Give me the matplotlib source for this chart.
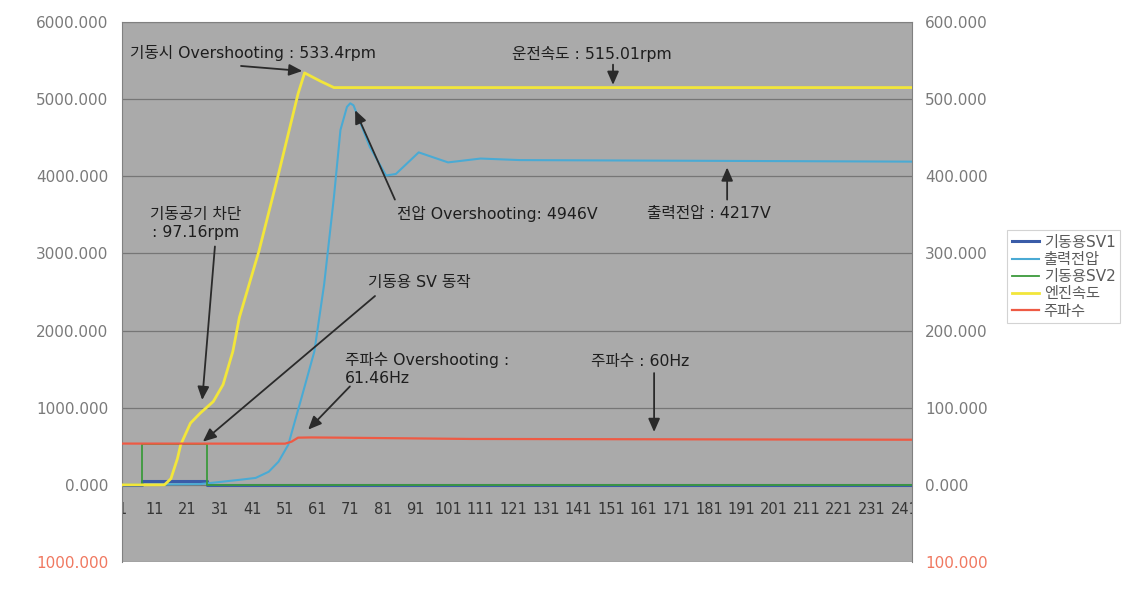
import matplotlib
matplotlib.use("Agg")
import matplotlib.pyplot as plt
from matplotlib.ticker import FixedLocator, FuncFormatter

# Latin glyphs from DejaVu (wider, like the original), Hangul falls back to Noto CJK
plt.rcParams['font.family'] = ['DejaVu Sans', 'Noto Sans CJK KR']
plt.rcParams['axes.unicode_minus'] = False

# ---- data ----
# 엔진속도 (rpm, right axis)
speed_x = [1, 14, 16, 18, 19, 22, 25, 29, 32, 35, 37, 43, 49, 55, 57, 62, 66, 243]
speed_rpm = [0, 0, 8, 34, 52, 80, 93, 108, 130, 173, 217, 303, 403, 507, 534, 523, 515, 515]

# 출력전압 (V, left axis)
volt_x = [1, 25, 37, 42, 46, 49, 52, 56, 60, 63, 66, 68, 70, 71, 72, 77, 82, 85, 92, 101, 111, 123, 243]
volt_v = [0, 10, 65, 90, 170, 300, 520, 1120, 1730, 2600, 3730, 4600, 4900, 4946, 4920, 4380, 4010, 4030,
          4310, 4180, 4230, 4210, 4190]

# 주파수 (Hz, right axis)
freq_x = [1, 51, 53, 55, 59, 67, 108, 243]
freq_hz = [53.5, 53.4, 56, 61.2, 61.46, 61.2, 59.5, 58.5]

# 기동용SV1 / 기동용SV2 (left axis)
sv1_x = [1, 7, 7, 27, 27, 243]
sv1_v = [0, 0, 45, 45, 0, 0]
sv2_x = [1, 7, 7, 27, 27, 243]
sv2_v = [0, 0, 530, 530, 0, 0]

x_ticks = list(range(1, 242, 10))
left_ticks = [-1000, 0, 1000, 2000, 3000, 4000, 5000, 6000]
right_ticks = [-100, 0, 100, 200, 300, 400, 500, 600]

# annotations: text, text pos, arrow tail, arrow tip, alignment  (right-axis units)
notes = [
    ("기동시 Overshooting : 533.4rpm", (3.5, 560), (37.5, 543), (56.3, 536.5), 'left'),
    ("운전속도 : 515.01rpm", (120.6, 559), (151.6, 544.7), (151.6, 518.5), 'left'),
    ("전압 Overshooting: 4946V", (85.4, 351.6), (84.7, 369.8), (72.5, 485.7), 'left'),
    ("출력전압 : 4217V", (162, 351.6), (186.6, 369.8), (186.6, 411.5), 'left'),
    ("기동공기 차단\n: 97.16rpm", (23.7, 338.5), (29.5, 309), (25.6, 110), 'center'),
    ("기동용 SV 동작", (76.5, 262.1), (78.6, 244.8), (25.8, 56.0), 'left'),
    ("주파수 Overshooting :\n61.46Hz", (69.4, 149.7), (70.9, 127.6), (58.1, 71.6), 'left'),
    ("주파수 : 60Hz", (144.9, 160.2), (164.2, 144.9), (164.2, 68.5), 'left'),
]

fig = plt.figure(figsize=(11.43, 6.08), dpi=100)
ax = fig.add_axes([122 / 1143, 46 / 608, 790 / 1143, 540 / 608])
ax.set_facecolor('#aaaaaa')

# primary axis series
ax.plot(sv1_x, sv1_v, color='#3a5ca8', lw=2.2, label='기동용SV1')
ax.plot(volt_x, volt_v, color='#4aaad4', lw=1.5, label='출력전압')
ax.plot(sv2_x, sv2_v, color='#3c9a3c', lw=1.3, label='기동용SV2')

ax.set_xlim(1, 243.3)
ax.set_ylim(-1000, 6000)
ax.yaxis.set_major_locator(FixedLocator(left_ticks))
ax.yaxis.set_major_formatter(FuncFormatter(lambda v, p: "%.3f" % abs(v)))
ax.grid(axis='y', color='#767676', lw=0.9)
ax.set_axisbelow(True)

ax.xaxis.set_major_locator(FixedLocator(x_ticks))
ax.spines['bottom'].set_position(('data', 0))
ax.spines['bottom'].set_visible(False)
ax.tick_params(axis='x', length=0, pad=12, labelsize=10.5, labelcolor='#353535')
for lbl in ax.get_xticklabels():
    lbl.set_clip_on(True)
    lbl.set_clip_box(ax.bbox)

ax.tick_params(axis='y', length=0, pad=10, labelsize=11, labelcolor='#7a7a7a')
ax.get_yticklabels()[0].set_color('#f07860')

for s in ['top', 'left', 'right']:
    ax.spines[s].set_color('#808080')

# secondary axis series
ax2 = ax.twinx()
ax2.plot(speed_x, speed_rpm, color='#f2e63a', lw=2.0, label='엔진속도')
ax2.plot(freq_x, freq_hz, color='#ee5a44', lw=1.6, label='주파수')
ax2.set_ylim(-100, 600)
ax2.yaxis.set_major_locator(FixedLocator(right_ticks))
ax2.yaxis.set_major_formatter(FuncFormatter(lambda v, p: "%.3f" % abs(v)))
ax2.tick_params(axis='y', length=0, pad=9.4, labelsize=11, labelcolor='#7a7a7a')
ax2.get_yticklabels()[0].set_color('#f07860')
for s in ['top', 'left', 'right', 'bottom']:
    ax2.spines[s].set_visible(False)

for txt, tpos, tail, tip, ha in notes:
    ax2.text(tpos[0], tpos[1], txt, ha=ha, va='center', fontsize=11.3, color='#1e1e1e',
             linespacing=1.25, multialignment=ha)
    ax2.annotate('', xy=tip, xytext=tail,
                 arrowprops=dict(arrowstyle='-|>,head_length=0.8,head_width=0.35',
                                 color='#2a2a2a', lw=1.3, shrinkA=0, shrinkB=0))

h1, l1 = ax.get_legend_handles_labels()
h2, l2 = ax2.get_legend_handles_labels()
leg = fig.legend(h1 + h2, l1 + l2, loc='upper left', bbox_to_anchor=(1007 / 1143, 1 - 230 / 608),
                 fontsize=11, frameon=True, fancybox=False, handlelength=1.8,
                 borderpad=0.3, labelspacing=0.15, handletextpad=0.3, borderaxespad=0)
leg.get_frame().set_edgecolor('#c8c8c8')
leg.get_frame().set_linewidth(0.8)
for t in leg.get_texts():
    t.set_color('#5a5a5a')

fig.savefig('out.png', dpi=100)
